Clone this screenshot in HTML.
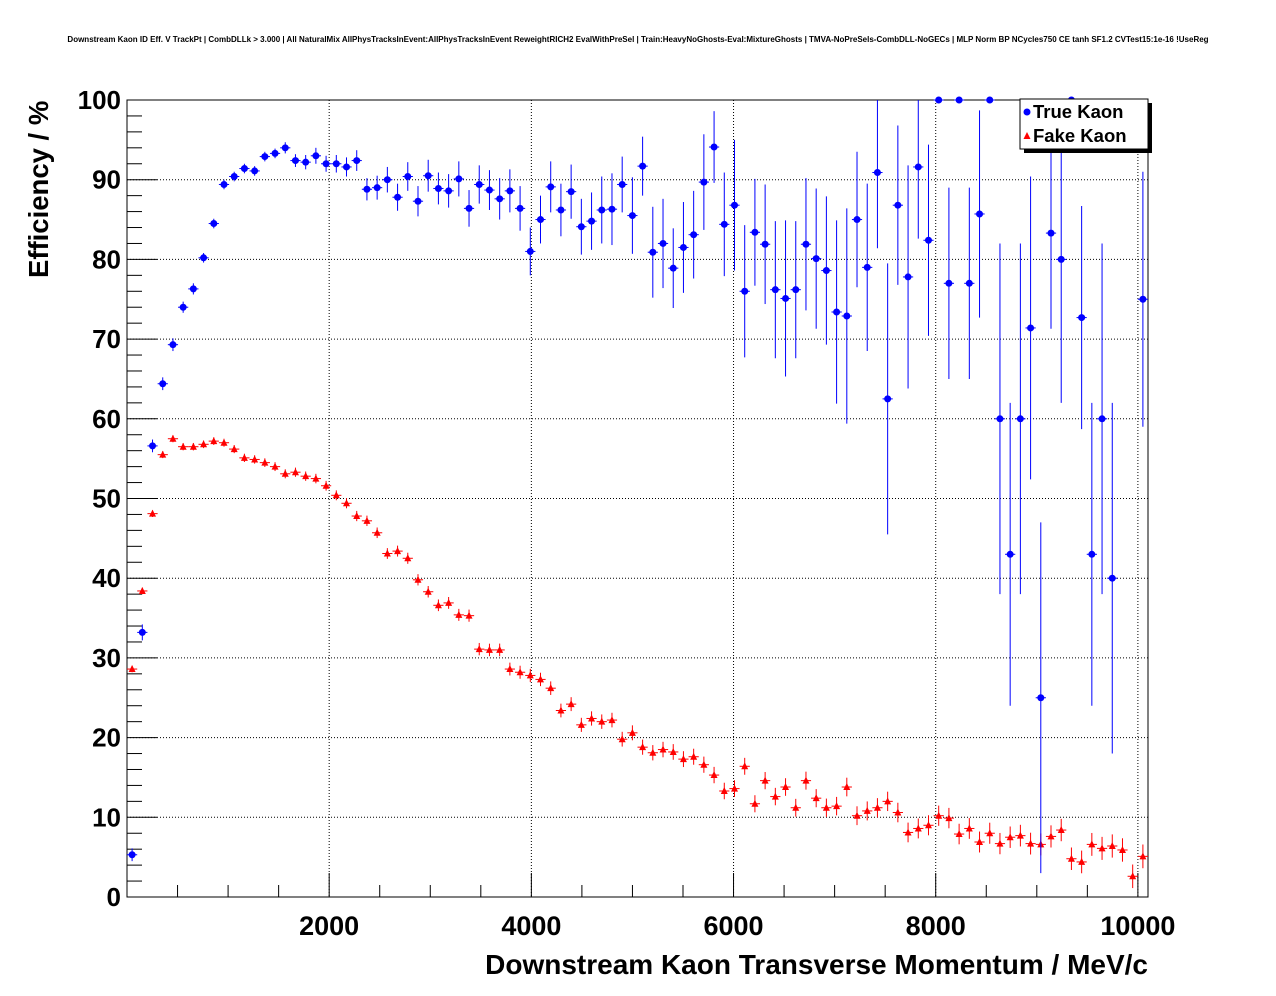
<!DOCTYPE html>
<html><head><meta charset="utf-8"><style>
body{margin:0;background:#fff;}
svg{display:block;font-family:"Liberation Sans",sans-serif;}
</style></head><body>
<svg id="c" width="1276" height="996">
<text x="638" y="42" text-anchor="middle" font-size="8" font-weight="bold">Downstream Kaon ID Eff. V TrackPt | CombDLLk &gt; 3.000 | All NaturalMix AllPhysTracksInEvent:AllPhysTracksInEvent ReweightRICH2 EvalWithPreSel | Train:HeavyNoGhosts-Eval:MixtureGhosts | TMVA-NoPreSels-CombDLL-NoGECs | MLP Norm BP NCycles750 CE tanh SF1.2 CVTest15:1e-16 !UseReg</text>
<g id="grid"></g><g id="axes"></g><g id="marks"></g>
<text x="1148" y="974" text-anchor="end" font-size="28" font-weight="bold">Downstream Kaon Transverse Momentum / MeV/c</text>
<text transform="translate(48,278) rotate(-90)" font-size="27.5" font-weight="bold">Efficiency / %</text>
<g>
<rect x="1024" y="103" width="128" height="50" fill="#000"/>
<rect x="1020" y="99" width="128" height="50" fill="#fff" stroke="#000" stroke-width="1"/>
<circle cx="1027" cy="112" r="3.5" fill="#00f"/>
<text x="1033" y="118" font-size="18.5" font-weight="bold">True Kaon</text>
<polygon points="1027,132 1023.5,139 1030.5,139" fill="#f00"/>
<text x="1033" y="142" font-size="18.5" font-weight="bold">Fake Kaon</text>
</g>
</svg>
<script>
const xTicks=[2000,4000,6000,8000,10000];
const yTicks=[0,10,20,30,40,50,60,70,80,90,100];
const trueEff=[5.3,33.2,56.6,64.4,69.3,74.0,76.3,80.2,84.5,89.4,90.4,91.4,91.1,92.9,93.3,94.0,92.4,92.2,93.0,92.0,92.0,91.6,92.4,88.8,89.0,90.0,87.8,90.4,87.3,90.5,88.9,88.6,90.1,86.4,89.4,88.7,87.6,88.6,86.4,81.0,85.0,89.1,86.2,88.5,84.1,84.8,86.2,86.3,89.4,85.5,91.7,80.9,82.0,78.9,81.5,83.1,89.7,94.1,84.4,86.8,76.0,83.4,81.9,76.2,75.1,76.2,81.9,80.1,78.6,73.4,72.9,85.0,79.0,90.9,62.5,86.8,77.8,91.6,82.4,100,77.0,100,77.0,85.7,100,60,43,60,71.4,25,83.3,80,100,72.7,43,60,40,null,null,75];
const trueErr=[0.8,1.0,0.8,0.8,0.8,0.7,0.7,0.6,0.6,0.6,0.6,0.6,0.6,0.6,0.6,0.7,0.8,0.9,1,1,1.1,1.2,1.3,1.4,1.5,1.6,1.7,1.8,1.9,2,2,2.1,2.2,2.3,2.4,2.5,2.6,2.7,2.8,3,3,3.2,3.3,3.4,3.5,3.6,4.2,4.5,3.5,4.8,3.7,5.7,5.6,5,5.7,5.5,6.0,4.5,6.5,8.2,8.3,6.7,7.5,8.6,9.8,8.6,8.3,8.8,9.3,11.5,13.5,8.5,10.5,9.5,17,10,14,9,12,0,12,0,12,13,0,22,19,22,19,22,12,18,0,14,19,22,22,0,0,16];
const fakeEff=[28.6,38.4,48.1,55.5,57.5,56.5,56.5,56.8,57.2,57.0,56.2,55.1,54.9,54.5,54.0,53.1,53.3,52.8,52.5,51.6,50.4,49.4,47.8,47.2,45.7,43.1,43.4,42.5,39.8,38.3,36.6,36.9,35.4,35.3,31.1,31.0,31.0,28.6,28.2,27.8,27.3,26.2,23.4,24.2,21.6,22.4,22.0,22.2,19.8,20.6,18.8,18.1,18.5,18.2,17.3,17.6,16.6,15.3,13.3,13.6,16.4,11.7,14.6,12.6,13.8,11.2,14.6,12.4,11.2,11.4,13.8,10.2,10.8,11.2,12.0,10.6,8.1,8.6,9.0,10.2,9.9,7.9,8.6,6.9,8.0,6.7,7.5,7.7,6.7,6.6,7.6,8.4,4.8,4.4,6.6,6.1,6.4,5.9,2.6,5.1];
const fakeErr=fakeEff.map((_,i)=>0.4+i*0.011);
const X0=127,X1=1148,Y0=897,Y1=100,XMIN=0,XMAX=10100,YMIN=0,YMAX=100,BIN=101;
const sx=v=>X0+(v-XMIN)/(XMAX-XMIN)*(X1-X0);
const sy=v=>Y0-(v-YMIN)/(YMAX-YMIN)*(Y0-Y1);
const NS="http://www.w3.org/2000/svg";
function mk(p,t,a){const e=document.createElementNS(NS,t);for(const k in a)e.setAttribute(k,a[k]);p.appendChild(e);return e;}
const G=document.getElementById('grid'),A=document.getElementById('axes'),M=document.getElementById('marks');
const fr=mk(A,'rect',{x:X0,y:Y1,width:X1-X0,height:Y0-Y1,fill:'none',stroke:'#000','stroke-width':1});


xTicks.forEach(t=>{const x=sx(t);
 const g=mk(G,'line',{x1:x,x2:x,y1:Y1,y2:Y0,stroke:'#000','stroke-dasharray':'1,2','stroke-width':1});
 
 
 mk(A,'line',{x1:x,x2:x,y1:Y0,y2:Y0-24,stroke:'#000'});
 const l=mk(A,'text',{x:x,y:935,'text-anchor':'middle','font-size':27,'font-weight':'bold'});l.textContent=t;
 
 
});
for(let v=500;v<XMAX;v+=500){if(v%2000)mk(A,'line',{x1:sx(v),x2:sx(v),y1:Y0,y2:Y0-12,stroke:'#000'});}
yTicks.forEach(t=>{const y=sy(t);
 if(t>0&&t<100){const g=mk(G,'line',{x1:X0,x2:X1,y1:y,y2:y,stroke:'#000','stroke-dasharray':'1,2','stroke-width':1});
 
 }
 mk(A,'line',{x1:X0,x2:X0+30,y1:y,y2:y,stroke:'#000'});
 const l=mk(A,'text',{x:121,y:y+9,'text-anchor':'end','font-size':26,'font-weight':'bold'});l.textContent=t;
 
 
});
for(let v=2;v<100;v+=2){if(v%10)mk(A,'line',{x1:X0,x2:X0+15,y1:sy(v),y2:sy(v),stroke:'#000'});}
function series(vals,errs,col,shape,name){
 vals.forEach((v,i)=>{if(v===null)return;const x=sx(i*BIN+BIN/2),y=sy(v);
  const g=mk(M,'g',{});
  
  
  const e=errs[i];
  mk(g,'line',{x1:x,x2:x,y1:Math.max(Y1,sy(v+e)),y2:Math.min(Y0,sy(v-e)),stroke:col,'stroke-width':1});
  mk(g,'line',{x1:sx(i*BIN),x2:sx(i*BIN+BIN),y1:y,y2:y,stroke:col,'stroke-width':1});
  if(shape==='c')mk(g,'circle',{cx:x,cy:y,r:3.5,fill:col});
  else mk(g,'polygon',{points:`${x},${y-4} ${x-3.5},${y+3} ${x+3.5},${y+3}`,fill:col});
 });
}
series(fakeEff,fakeErr,'#f00','t','fake-kaon');
series(trueEff,trueErr,'#00f','c','true-kaon');
</script>
</body></html>
